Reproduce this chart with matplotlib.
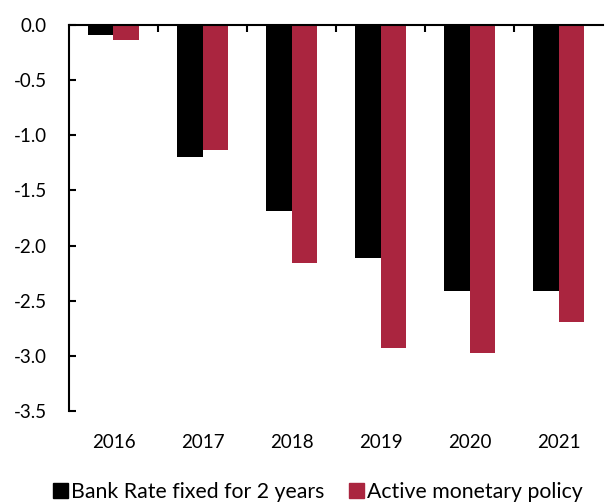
import numpy as np
import matplotlib.pyplot as plt
from matplotlib.patches import Patch
from matplotlib.ticker import FixedLocator, NullFormatter

plt.rcParams['font.family'] = ['Lato', 'DejaVu Sans']
plt.rcParams['axes.unicode_minus'] = False

years = ['2016', '2017', '2018', '2019', '2020', '2021']
bank_rate_fixed = [-0.09, -1.20, -1.69, -2.11, -2.41, -2.41]
active_policy = [-0.13, -1.13, -2.16, -2.93, -2.98, -2.69]
y_ticks = [-3.5, -3.0, -2.5, -2.0, -1.5, -1.0, -0.5, 0.0]

black = '#000000'
crimson = '#AA253F'

fig = plt.figure(figsize=(6.05, 5.04), dpi=100)
ax = fig.add_axes([0.114, 0.185, 0.883, 0.765])

x = np.arange(len(years))
w = 0.29
ax.bar(x - w / 2, bank_rate_fixed, width=w, color=black)
ax.bar(x + w / 2, active_policy, width=w, color=crimson)

ax.set_xlim(-0.5, len(years) - 0.5)
ax.set_ylim(-3.5, 0.0)
ax.set_yticks(y_ticks)
ax.set_yticklabels([f'{v:.1f}' for v in y_ticks])

# zero line sits on top; category dividers as ticks along it
ax.spines['bottom'].set_visible(False)
ax.spines['right'].set_visible(False)
ax.spines['top'].set_linewidth(1.5)
ax.spines['left'].set_linewidth(1.5)

ax.xaxis.set_major_locator(FixedLocator(x[:-1] + 0.5))
ax.xaxis.set_major_formatter(NullFormatter())
ax.xaxis.set_minor_locator(FixedLocator(x))
ax.set_xticklabels(years, minor=True)
ax.tick_params(axis='x', which='major', top=True, bottom=False,
               direction='in', length=5, width=1.5)
ax.tick_params(axis='x', which='minor', bottom=True, top=False,
               length=0, pad=17, labelsize=13.5)
ax.tick_params(axis='y', direction='in', length=5, width=1.5,
               labelsize=13.5, pad=16)

handles = [Patch(color=black, label='Bank Rate fixed for 2 years'),
           Patch(color=crimson, label='Active monetary policy')]
fig.legend(handles=handles, loc='center', bbox_to_anchor=(0.525, 0.024),
           ncol=2, frameon=False, fontsize=15.3, handlelength=0.7,
           handleheight=0.7, handletextpad=0.15, columnspacing=1.15,
           borderpad=0)

fig.savefig('out.png', dpi=100)
